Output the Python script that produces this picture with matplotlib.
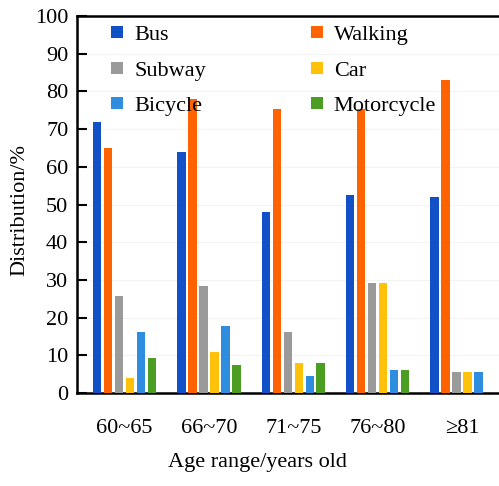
import numpy as np
import matplotlib
matplotlib.use('Agg')
import matplotlib.pyplot as plt

# ── Data ─────────────────────────────────────────────────────────────────────
age_groups = ['60~65', '66~70', '71~75', '76~80', '≥81']

bus        = [71.8, 63.8, 48.0, 52.5, 51.9]
walking    = [64.9, 77.9, 75.4, 75.4, 83.0]
subway     = [25.6, 28.5, 16.1, 29.1, 5.6]
car        = [4.0, 10.8, 8.0, 29.1, 5.6]
bicycle    = [16.1, 17.9, 4.5, 6.2, 5.6]
motorcycle = [9.4, 7.3, 8.0, 6.2, 0.0]

series = [
    ('Bus',        bus,        '#1150c6'),
    ('Walking',    walking,    '#ff6200'),
    ('Subway',     subway,     '#9a9a9a'),
    ('Car',        car,        '#ffc10a'),
    ('Bicycle',    bicycle,    '#2f8de0'),
    ('Motorcycle', motorcycle, '#4c9e22'),
]

# ── Style ────────────────────────────────────────────────────────────────────
plt.rcParams.update({
    'font.family': ['Liberation Serif', 'DejaVu Serif'],
    'font.size':   15,
})

fig = plt.figure(figsize=(4.99, 4.86), dpi=100)
ax = fig.add_axes([76.7 / 499, 93 / 486, (499 - 76.7) / 499, (393 - 16) / 486])

x = np.arange(len(age_groups))
step = 0.13
width = 0.10
handles = {}
for i, (name, vals, color) in enumerate(series):
    offs = (i - 2.5) * step
    b = ax.bar(x + offs, vals, width=width, color=color, edgecolor='none', zorder=3)
    handles[name] = b

ax.set_xlim(-0.569, 4.44)
ax.set_ylim(0, 100)
ax.set_yticks(range(0, 101, 10))
ax.set_xticks(x)
ax.set_xticklabels(age_groups, fontsize=16)
ax.tick_params(axis='y', direction='in', length=7, width=1.5, labelsize=16, pad=6)
ax.tick_params(axis='x', length=0, pad=19)
for s in ['left', 'bottom', 'top']:
    ax.spines[s].set_linewidth(1.8)
    ax.spines[s].set_color('black')
ax.spines['right'].set_visible(False)
ax.yaxis.grid(True, color='#f3f3f3', linewidth=0.8, zorder=0)
ax.set_axisbelow(True)

# legend: two columns, filled column-wise
order = ['Bus', 'Subway', 'Bicycle', 'Walking', 'Car', 'Motorcycle']
ax.legend([handles[n] for n in order], order, ncol=2, frameon=False,
          loc='upper left', bbox_to_anchor=(111 / 499, 1 - 26 / 486),
          bbox_transform=fig.transFigure, borderaxespad=0, borderpad=0,
          fontsize=16, handlelength=0.55, handleheight=0.45, handletextpad=0.5,
          columnspacing=4.7, labelspacing=0.75)

fig.text(20 / 499, 1 - 210 / 486, 'Distribution/%', rotation=90,
         ha='center', va='center', fontsize=16)
fig.text(257 / 499, 1 - 462 / 486, 'Age range/years old',
         ha='center', va='center', fontsize=16)

fig.savefig('out.png', dpi=100, facecolor='white')
